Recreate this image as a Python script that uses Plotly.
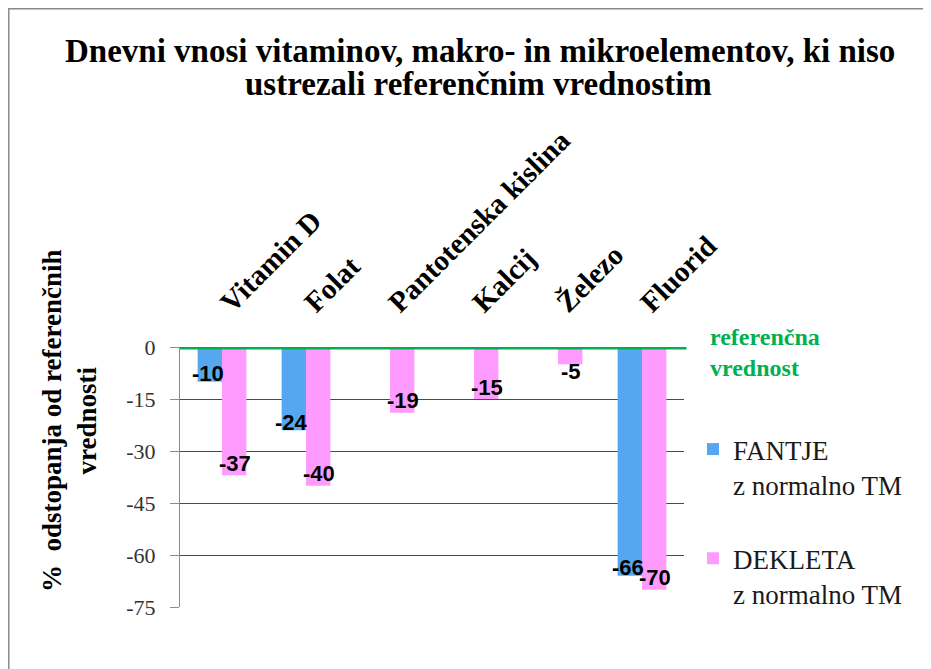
import plotly.graph_objects as go

# ---- data ----
categories = ["Vitamin D", "Folat", "Pantotenska kislina", "Kalcij", "Železo", "Fluorid"]
fantje = [-10, -24, None, None, None, -66]
dekleta = [-37, -40, -19, -15, -5, -70]
y_ticks = [0, -15, -30, -45, -60, -75]
series_names = ["FANTJE<br>z normalno TM", "DEKLETA<br>z normalno TM"]
title_lines = ["Dnevni vnosi vitaminov, makro- in mikroelementov, ki niso",
               "ustrezali referenčnim vrednostim"]
y_title = "%  odstopanja od referenčnih<br>vrednosti"
ref_label = "referenčna<br>vrednost"

# ---- layout geometry (absolute window pixels; page body has an 8px margin) ----
OFF = 8
W, H = 931 - OFF, 669 - OFF
PL, PR, PT, PB = 180, 684, 347, 607          # plot area in window pixels
L, T = PL - OFF, PT - OFF
R, B = W - (PR - OFF), H - (PB - OFF)
PW, PH = PR - PL, PB - PT


def px(x):
    return (x - PL) / PW


def py(y):
    return (PB - y) / PH


SERIF = "Liberation Serif"
SANS = "Liberation Sans"
BLUE = "#55A8EF"
PINK = "#FF9BFF"
GREEN = "#00B050"
BARGAP = 0.42

fig = go.Figure()
series = [(series_names[0], fantje, BLUE, "a", -1, -2, 8),
          (series_names[1], dekleta, PINK, "b", 1, 1, 12)]
annotations = []
bar_px = PW / len(categories) * (1 - BARGAP) / 2
for name, vals, col, grp, side, nudge, lift in series:
    fig.add_trace(go.Bar(
        x=categories, y=vals, name=name, marker=dict(color=col, line=dict(width=0)),
        legendgroup=grp, hoverinfo="skip",
    ))
    for c, v in zip(categories, vals):
        if v is None:
            continue
        inside = abs(v) >= 8
        annotations.append(dict(
            x=c, y=v, xref="x", yref="y", text=str(v), showarrow=False,
            xanchor="center", yanchor="middle",
            xshift=side * bar_px / 2 + nudge, yshift=lift if inside else -7,
            font=dict(family=SANS, size=22, color="#000000", weight="bold")))

fig.update_layout(
    width=W, height=H,
    margin=dict(l=L, r=R, t=T, b=B, autoexpand=False),
    paper_bgcolor="white", plot_bgcolor="white",
    barmode="group", bargap=BARGAP, bargroupgap=0,
    showlegend=True,
    legend=dict(x=px(693), y=py(425), xanchor="left", yanchor="top",
                font=dict(family=SERIF, size=27, color="#1a1a1a"),
                valign="top", tracegroupgap=36, traceorder="grouped",
                bgcolor="rgba(0,0,0,0)"),
    xaxis=dict(side="top", tickangle=-45, showgrid=False, showline=False,
               ticks="", zeroline=False, ticklabelstandoff=22,
               tickfont=dict(family=SERIF, size=29, color="#000000", weight="bold")),
    yaxis=dict(range=[min(y_ticks), max(y_ticks)], tickvals=y_ticks,
               ticktext=[str(v) for v in y_ticks],
               showgrid=True, gridcolor="#4a4a4a", gridwidth=1,
               zeroline=False, showline=True, linecolor="#8c8c8c", linewidth=1,
               ticks="outside", ticklen=9, tickcolor="#8c8c8c",
               ticklabelstandoff=10,
               tickfont=dict(family=SERIF, size=22, color="#333333")),
    shapes=[
        dict(type="line", xref="x domain", yref="y", x0=0, x1=1.005,
             y0=max(y_ticks), y1=max(y_ticks), line=dict(color=GREEN, width=5),
             layer="above"),
        dict(type="rect", xref="paper", yref="paper", x0=px(8.8), x1=px(925),
             y0=py(675), y1=py(8.8), line=dict(color="#8a8a8a", width=1.5),
             fillcolor="rgba(0,0,0,0)", layer="below"),
    ],
    annotations=annotations + [
        dict(text="<b>%s</b>" % title_lines[0], xref="paper", yref="paper",
             x=px(480), y=py(51), xanchor="center", yanchor="middle",
             showarrow=False, font=dict(family=SERIF, size=33, color="#000000")),
        dict(text="<b>%s</b>" % title_lines[1], xref="paper", yref="paper",
             x=px(478), y=py(84), xanchor="center", yanchor="middle",
             showarrow=False, font=dict(family=SERIF, size=33, color="#000000")),
        dict(text="<b>%s</b>" % y_title, xref="paper", yref="paper",
             x=px(69), y=py(421), xanchor="center", yanchor="middle",
             textangle=-90, showarrow=False,
             font=dict(family=SERIF, size=27, color="#000000")),
        dict(text="<b>%s</b>" % ref_label, xref="paper", yref="paper",
             x=px(708), y=py(352), xanchor="left", yanchor="middle", align="left",
             showarrow=False, font=dict(family=SERIF, size=24, color=GREEN)),
    ],
)

fig.write_html("out.html")
